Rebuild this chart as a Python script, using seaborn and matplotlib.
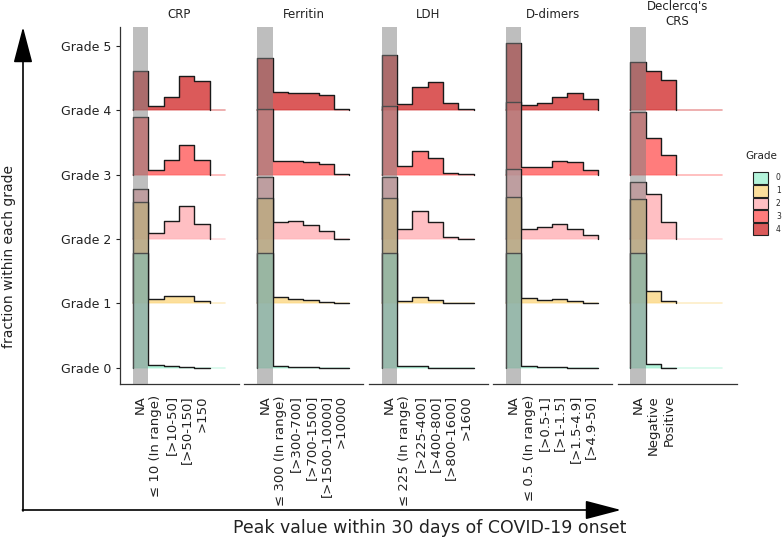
import matplotlib
matplotlib.use("Agg")
import matplotlib.pyplot as plt
import numpy as np
import seaborn as sns
from matplotlib.colors import to_rgba
from matplotlib.patches import FancyArrowPatch, Patch

GRADES = [0, 1, 2, 3, 4]
GRADE_COLORS = ["#a2f2d3", "#fcd883", "#ffb0b5", "#ff5b5b", "#d23131"]

PANEL_TITLES = ["CRP", "Ferritin", "LDH", "D-dimers", "Declercq's\nCRS"]

# heights in grade units, one row per grade (0..4), NA first
CRP_LEVELS = ["NA", "≤ 10 (In range)", "[>10-50]", "[>50-150]", ">150"]
CRP_HEIGHTS = [
    [1.79, 0.040, 0.026, 0.016, 0.005],
    [1.58, 0.062, 0.109, 0.120, 0.036],
    [0.77, 0.088, 0.280, 0.510, 0.230],
    [0.886, 0.067, 0.230, 0.456, 0.220],
    [0.61, 0.067, 0.210, 0.530, 0.450],
]

FERRITIN_LEVELS = ["NA", "≤ 300 (In range)", "[>300-700]", "[>700-1500]",
                   "[>1500-10000]", ">10000"]
FERRITIN_HEIGHTS = [
    [1.79, 0.036, 0.016, 0.010, 0.005, 0.0],
    [1.63, 0.093, 0.062, 0.047, 0.016, 0.0],
    [0.96, 0.270, 0.280, 0.218, 0.130, 0.005],
    [1.01, 0.218, 0.218, 0.197, 0.160, 0.005],
    [0.81, 0.285, 0.270, 0.270, 0.233, 0.010],
]

LDH_LEVELS = ["NA", "≤ 225 (In range)", "[>225-400]", "[>400-800]",
              "[>800-1600]", ">1600"]
LDH_HEIGHTS = [
    [1.79, 0.026, 0.026, 0.005, 0.0, 0.0],
    [1.63, 0.036, 0.104, 0.047, 0.005, 0.0],
    [0.96, 0.155, 0.440, 0.270, 0.036, 0.005],
    [1.06, 0.130, 0.368, 0.254, 0.026, 0.005],
    [0.86, 0.093, 0.357, 0.435, 0.104, 0.020],
]

DDIMER_LEVELS = ["NA", "≤ 0.5 (In range)", "[>0.5-1]", "[>1-1.5]",
                 "[>1.5-4.9]", "[>4.9-50]"]
DDIMER_HEIGHTS = [
    [1.79, 0.036, 0.016, 0.010, 0.005, 0.0],
    [1.65, 0.088, 0.047, 0.062, 0.036, 0.005],
    [1.09, 0.155, 0.180, 0.228, 0.150, 0.057],
    [1.13, 0.120, 0.120, 0.210, 0.197, 0.078],
    [1.036, 0.083, 0.110, 0.197, 0.260, 0.166],
]

CRS_LEVELS = ["NA", "Negative", "Positive"]
CRS_HEIGHTS = [
    [1.79, 0.067, 0.0],
    [1.62, 0.197, 0.041],
    [0.89, 0.705, 0.270],
    [0.974, 0.575, 0.300],
    [0.75, 0.610, 0.470],
]


def px(x, y):
    return x / 784, 1 - y / 539


def draw_panel(ax, levels, heights):
    n = len(levels)
    edges = np.arange(n + 1) - 0.5
    for g in GRADES[::-1]:
        h = np.asarray(heights[g])
        z = 10 - 2 * g
        ax.stairs(g + h, edges, baseline=g, fill=True,
                  color=GRADE_COLORS[g], alpha=0.8, lw=0, zorder=z)
        ax.plot([-0.5, 5.5], [g, g], color=GRADE_COLORS[g], alpha=0.45,
                lw=1.2, zorder=z)
        xs = np.repeat(edges, 2)
        ys = np.concatenate([[g], np.repeat(g + h, 2), [g]])
        sns.lineplot(x=xs, y=ys, sort=False, estimator=None, ax=ax,
                     color="#1a1a1a", lw=1.0, zorder=z + 1, legend=False)
    ax.axvspan(-0.5, 0.5, color="#7f7f7f", alpha=0.5, lw=0, zorder=20)
    ax.set_xlim(-1.335, 6.42)
    ax.set_ylim(-0.25, 5.29)
    ax.set_xticks(range(n))
    ax.set_xticklabels(levels, rotation=90, ha="center", va="top",
                       fontsize=9.5)
    ax.tick_params(axis="x", length=0, pad=8, colors="#222222")


def main():
    sns.set_theme(style="white")
    plt.rcParams["font.family"] = ["DejaVu Sans"]

    fig = plt.figure(figsize=(7.84, 5.39), dpi=100)
    fig.patch.set_facecolor("white")

    panels = [
        (CRP_LEVELS, CRP_HEIGHTS),
        (FERRITIN_LEVELS, FERRITIN_HEIGHTS),
        (LDH_LEVELS, LDH_HEIGHTS),
        (DDIMER_LEVELS, DDIMER_HEIGHTS),
        (CRS_LEVELS, CRS_HEIGHTS),
    ]

    for i, (levels, heights) in enumerate(panels):
        left = 120 + 124.4 * i
        x0, y0 = px(left, 384)
        ax = fig.add_axes([x0, y0, 119 / 784, 357 / 539])
        draw_panel(ax, levels, heights)
        ax.text(0.5, 1.0356, PANEL_TITLES[i], transform=ax.transAxes,
                ha="center", va="center", fontsize=8.5, color="#222222")
        for side in ["top", "right"]:
            ax.spines[side].set_visible(False)
        for side in ["left", "bottom"]:
            ax.spines[side].set_color("#333333")
            ax.spines[side].set_linewidth(0.9)
        if i == 0:
            ax.set_yticks(range(6))
            ax.set_yticklabels([f"Grade {k}" for k in range(6)], fontsize=9)
            ax.tick_params(axis="y", length=3, width=0.8, pad=3,
                           colors="#222222", left=True)
        else:
            ax.spines["left"].set_visible(False)
            ax.set_yticks([])
        ax.set_xlabel("")
        ax.set_ylabel("")

    # big axis arrows
    arrow_style = "-|>,head_length=1.6,head_width=0.42"
    fig.add_artist(FancyArrowPatch(px(23, 511), px(23, 27),
                                   transform=fig.transFigure,
                                   arrowstyle=arrow_style, mutation_scale=14,
                                   lw=1.2, color="black",
                                   shrinkA=0, shrinkB=0))
    fig.add_artist(FancyArrowPatch(px(22.4, 510), px(621, 510),
                                   transform=fig.transFigure,
                                   arrowstyle=arrow_style, mutation_scale=14,
                                   lw=1.2, color="black",
                                   shrinkA=0, shrinkB=0))

    fig.text(*px(9, 256), "fraction within each grade", rotation=90,
             ha="center", va="center", fontsize=10, color="#222222")
    fig.text(*px(430, 528), "Peak value within 30 days of COVID-19 onset",
             ha="center", va="center", fontsize=12.5, color="#222222")

    # legend
    fig.text(*px(761, 156), "Grade", ha="center", va="center", fontsize=7.5,
             color="#222222")
    handles = [Patch(facecolor=to_rgba(c, 0.8), edgecolor="#222222",
                     linewidth=0.8) for c in GRADE_COLORS]
    fig.legend(handles, [str(g) for g in GRADES], loc="upper left",
               bbox_to_anchor=px(753, 172), frameon=False, fontsize=5.5,
               handlelength=2.0, handleheight=2.0, labelspacing=0.13,
               handletextpad=1.0, borderaxespad=0, borderpad=0)

    fig.savefig("out.png", dpi=100, facecolor="white")
    plt.close(fig)


if __name__ == "__main__":
    main()
